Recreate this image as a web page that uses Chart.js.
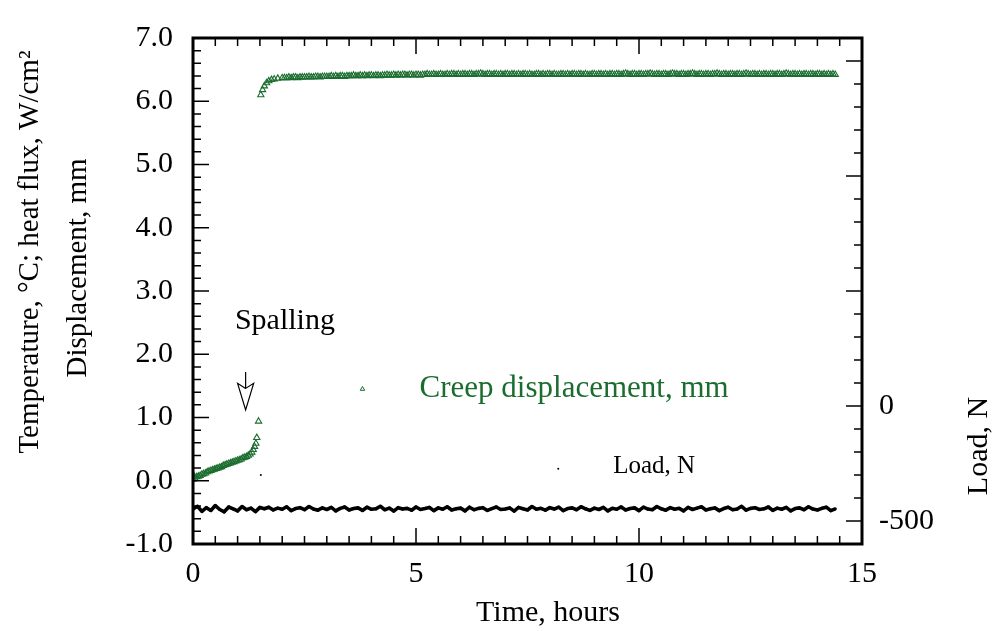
<!DOCTYPE html>
<html>
<head>
    <meta charset="utf-8">
    <title>creep test</title>
    <script src="https://cdn.jsdelivr.net/npm/chart.js@4.4.1/dist/chart.umd.min.js"></script>
    <style>
        body { margin: 0; background: #fff; }
        #myChart { display: block; }
    </style>
</head>
<body>
<canvas id="myChart" width="994" height="631"></canvas>

<script>
    // ---- data ----
    // creep displacement, mm (left axis): before spalling
    let creepTimeA = [
        0.00, 0.00, 0.04, 0.08, 0.12, 0.16, 0.20, 0.24, 0.28, 0.32,
        0.36, 0.40, 0.44, 0.48, 0.52, 0.56, 0.60, 0.64, 0.68, 0.72,
        0.76, 0.80, 0.84, 0.88, 0.92, 0.96, 1.00, 1.04, 1.08, 1.12,
        1.16, 1.20, 1.24, 1.28, 1.32, 1.35, 1.38, 1.41, 1.43, 1.47,
        1.52, 1.56, 1.60, 1.65, 1.70, 1.76, 1.82, 1.90, 2.00
    ];
    let creepDispA = [
        0.10, 0.02, 0.04, 0.06, 0.07, 0.08, 0.10, 0.11, 0.12, 0.14,
        0.15, 0.16, 0.17, 0.18, 0.19, 0.20, 0.21, 0.22, 0.24, 0.25,
        0.26, 0.27, 0.28, 0.29, 0.30, 0.31, 0.32, 0.33, 0.34, 0.36,
        0.37, 0.38, 0.40, 0.42, 0.45, 0.49, 0.54, 0.59, 0.68, 0.94,
        6.10, 6.18, 6.24, 6.29, 6.32, 6.34, 6.35, 6.36, 6.37
    ];
    // creep displacement after spalling (dense plateau)
    let creepTimeB = [
        2.05, 2.10, 2.15, 2.20, 2.25, 2.30, 2.35, 2.40, 2.45, 2.50,
        2.55, 2.60, 2.65, 2.70, 2.75, 2.80, 2.85, 2.90, 2.95, 3.00,
        3.05, 3.10, 3.15, 3.20, 3.25, 3.30, 3.35, 3.40, 3.45, 3.50,
        3.55, 3.60, 3.65, 3.70, 3.75, 3.80, 3.85, 3.90, 3.95, 4.00,
        4.05, 4.10, 4.15, 4.20, 4.25, 4.30, 4.35, 4.40, 4.45, 4.50,
        4.55, 4.60, 4.65, 4.70, 4.75, 4.80, 4.85, 4.90, 4.95, 5.00,
        5.05, 5.10, 5.15, 5.20, 5.25, 5.30, 5.35, 5.40, 5.45, 5.50,
        5.55, 5.60, 5.65, 5.70, 5.75, 5.80, 5.85, 5.90, 5.95, 6.00,
        6.05, 6.10, 6.15, 6.20, 6.25, 6.30, 6.35, 6.40, 6.45, 6.50,
        6.55, 6.60, 6.65, 6.70, 6.75, 6.80, 6.85, 6.90, 6.95, 7.00,
        7.05, 7.10, 7.15, 7.20, 7.25, 7.30, 7.35, 7.40, 7.45, 7.50,
        7.55, 7.60, 7.65, 7.70, 7.75, 7.80, 7.85, 7.90, 7.95, 8.00,
        8.05, 8.10, 8.15, 8.20, 8.25, 8.30, 8.35, 8.40, 8.45, 8.50,
        8.55, 8.60, 8.65, 8.70, 8.75, 8.80, 8.85, 8.90, 8.95, 9.00,
        9.05, 9.10, 9.15, 9.20, 9.25, 9.30, 9.35, 9.40, 9.45, 9.50,
        9.55, 9.60, 9.65, 9.70, 9.75, 9.80, 9.85, 9.90, 9.95, 10.00,
        10.05, 10.10, 10.15, 10.20, 10.25, 10.30, 10.35, 10.40, 10.45, 10.50,
        10.55, 10.60, 10.65, 10.70, 10.75, 10.80, 10.85, 10.90, 10.95, 11.00,
        11.05, 11.10, 11.15, 11.20, 11.25, 11.30, 11.35, 11.40, 11.45, 11.50,
        11.55, 11.60, 11.65, 11.70, 11.75, 11.80, 11.85, 11.90, 11.95, 12.00,
        12.05, 12.10, 12.15, 12.20, 12.25, 12.30, 12.35, 12.40, 12.45, 12.50,
        12.55, 12.60, 12.65, 12.70, 12.75, 12.80, 12.85, 12.90, 12.95, 13.00,
        13.05, 13.10, 13.15, 13.20, 13.25, 13.30, 13.35, 13.40, 13.45, 13.50,
        13.55, 13.60, 13.65, 13.70, 13.75, 13.80, 13.85, 13.90, 13.95, 14.00,
        14.05, 14.10, 14.15, 14.20, 14.25, 14.30, 14.35, 14.40
    ];
    let creepDispB = [
        6.37, 6.37, 6.38, 6.37, 6.38, 6.38, 6.37, 6.38, 6.38, 6.38,
        6.38, 6.39, 6.38, 6.38, 6.39, 6.39, 6.38, 6.39, 6.39, 6.39,
        6.39, 6.40, 6.39, 6.40, 6.39, 6.40, 6.40, 6.39, 6.40, 6.40,
        6.40, 6.41, 6.40, 6.40, 6.41, 6.40, 6.41, 6.40, 6.41, 6.41,
        6.40, 6.41, 6.41, 6.40, 6.41, 6.41, 6.42, 6.41, 6.41, 6.42,
        6.41, 6.42, 6.41, 6.42, 6.42, 6.41, 6.42, 6.42, 6.41, 6.42,
        6.42, 6.41, 6.42, 6.42, 6.43, 6.42, 6.42, 6.43, 6.42, 6.42,
        6.43, 6.42, 6.42, 6.43, 6.42, 6.43, 6.43, 6.42, 6.43, 6.42,
        6.43, 6.43, 6.42, 6.43, 6.43, 6.42, 6.43, 6.43, 6.44, 6.43,
        6.42, 6.43, 6.43, 6.42, 6.43, 6.43, 6.42, 6.43, 6.42, 6.43,
        6.43, 6.42, 6.43, 6.43, 6.42, 6.43, 6.42, 6.43, 6.43, 6.42,
        6.43, 6.42, 6.42, 6.43, 6.43, 6.42, 6.43, 6.42, 6.43, 6.43,
        6.42, 6.43, 6.42, 6.42, 6.43, 6.43, 6.42, 6.43, 6.42, 6.43,
        6.43, 6.42, 6.43, 6.43, 6.42, 6.43, 6.42, 6.42, 6.43, 6.43,
        6.42, 6.43, 6.43, 6.42, 6.43, 6.42, 6.43, 6.43, 6.42, 6.43,
        6.43, 6.42, 6.43, 6.44, 6.43, 6.42, 6.43, 6.43, 6.42, 6.43,
        6.43, 6.42, 6.43, 6.43, 6.44, 6.43, 6.42, 6.43, 6.43, 6.42,
        6.43, 6.43, 6.42, 6.43, 6.44, 6.43, 6.43, 6.42, 6.43, 6.43,
        6.42, 6.43, 6.43, 6.44, 6.43, 6.42, 6.43, 6.43, 6.42, 6.43,
        6.43, 6.42, 6.43, 6.43, 6.44, 6.43, 6.42, 6.43, 6.43, 6.42,
        6.43, 6.43, 6.42, 6.43, 6.43, 6.42, 6.43, 6.44, 6.43, 6.42,
        6.43, 6.43, 6.42, 6.43, 6.42, 6.43, 6.43, 6.42, 6.43, 6.43,
        6.42, 6.43, 6.43, 6.42, 6.43, 6.44, 6.43, 6.42, 6.43, 6.43,
        6.42, 6.43, 6.42, 6.43, 6.43, 6.42, 6.43, 6.43, 6.42, 6.43,
        6.43, 6.42, 6.43, 6.42, 6.43, 6.42, 6.43, 6.42
    ];

    // load, N (right axis)
    let loadTime = [
        0.0, 0.1, 0.2, 0.3, 0.4, 0.5, 0.6, 0.7, 0.8, 0.9,
        1.0, 1.1, 1.2, 1.3, 1.4, 1.5, 1.6, 1.7, 1.8, 1.9,
        2.0, 2.1, 2.2, 2.3, 2.4, 2.5, 2.6, 2.7, 2.8, 2.9,
        3.0, 3.1, 3.2, 3.3, 3.4, 3.5, 3.6, 3.7, 3.8, 3.9,
        4.0, 4.1, 4.2, 4.3, 4.4, 4.5, 4.6, 4.7, 4.8, 4.9,
        5.0, 5.1, 5.2, 5.3, 5.4, 5.5, 5.6, 5.7, 5.8, 5.9,
        6.0, 6.1, 6.2, 6.3, 6.4, 6.5, 6.6, 6.7, 6.8, 6.9,
        7.0, 7.1, 7.2, 7.3, 7.4, 7.5, 7.6, 7.7, 7.8, 7.9,
        8.0, 8.1, 8.2, 8.3, 8.4, 8.5, 8.6, 8.7, 8.8, 8.9,
        9.0, 9.1, 9.2, 9.3, 9.4, 9.5, 9.6, 9.7, 9.8, 9.9,
        10.0, 10.1, 10.2, 10.3, 10.4, 10.5, 10.6, 10.7, 10.8, 10.9,
        11.0, 11.1, 11.2, 11.3, 11.4, 11.5, 11.6, 11.7, 11.8, 11.9,
        12.0, 12.1, 12.2, 12.3, 12.4, 12.5, 12.6, 12.7, 12.8, 12.9,
        13.0, 13.1, 13.2, 13.3, 13.4, 13.5, 13.6, 13.7, 13.8, 13.9,
        14.0, 14.1, 14.2, 14.3, 14.4
    ];
    let loadN = [
        -448, -436, -458, -442, -454, -433, -450, -460, -439, -447,
        -456, -437, -451, -444, -459, -441,
        -447, -440, -452, -444, -449, -438, -455, -446, -442, -451,
        -437, -448, -453, -443, -450, -441, -456, -445, -439, -452,
        -446, -443, -454, -440, -449, -447, -436, -451, -444, -457,
        -442, -448, -445, -453, -439, -450, -446, -441, -455, -443,
        -449, -438, -452, -447, -444, -456, -440, -451, -445, -442,
        -454, -446, -439, -450, -448, -443, -457, -441, -447, -452,
        -437, -449, -445, -453, -442, -448, -440, -455, -446, -443,
        -451, -438, -447, -454, -444, -450, -441, -456, -445, -449,
        -439, -452, -446, -443, -455, -440, -448, -451, -437, -447,
        -453, -442, -449, -445, -456, -441, -450, -444, -438, -452,
        -447, -443, -455, -446, -440, -451, -448, -436, -453, -445,
        -442, -450, -447, -439, -454, -444, -449, -441, -456, -446,
        -443, -451, -438, -448, -452, -445, -440, -455, -447
    ];
    // single stray load reading just after spalling
    let loadSpikeTime = [1.52];
    let loadSpike = [-300];

    // tick labels
    let timeTicks = [0, 5, 10, 15];
    let dispTicks = [-1, 0, 1, 2, 3, 4, 5, 6, 7];
    let loadTicks = [-500, 0];

    let green = '#1b6d2f';
    let serif = '"Liberation Serif", "Times New Roman", serif';

    function pairs(xs, ys) {
        let out = [];
        for (let i = 0; i < xs.length; i++) {
            out.push({x: xs[i], y: ys[i]});
        }
        return out;
    }

    // inward ticks, frame, titles, legend and the spalling arrow
    let decor = {
        id: 'decor',
        afterDraw: function (chart) {
            let ctx = chart.ctx;
            let a = chart.chartArea;
            let sx = chart.scales.x, sy = chart.scales.y, sy2 = chart.scales.y2;
            ctx.save();
            ctx.strokeStyle = '#000';
            ctx.lineWidth = 1.5;
            ctx.beginPath();
            // time ticks every 0.5 h, long every 5 h (bottom and top)
            for (let i = 0; i <= 30; i++) {
                let px = sx.getPixelForValue(i * 0.5);
                let len = (i % 10 === 0) ? 16 : 8;
                ctx.moveTo(px, a.bottom); ctx.lineTo(px, a.bottom - len);
                ctx.moveTo(px, a.top); ctx.lineTo(px, a.top + len);
            }
            // displacement ticks every 0.2, long every 1.0
            for (let i = 0; i <= 40; i++) {
                let py = sy.getPixelForValue(-1 + i * 0.2);
                let len = (i % 5 === 0) ? 16 : 8;
                ctx.moveTo(a.left, py); ctx.lineTo(a.left + len, py);
            }
            // load ticks every 100 N, long every 500 N
            for (let i = 0; i <= 22; i++) {
                let v = -600 + i * 100;
                let py = sy2.getPixelForValue(v);
                let len = (v % 500 === 0) ? 16 : 8;
                ctx.moveTo(a.right, py); ctx.lineTo(a.right - len, py);
            }
            ctx.stroke();

            // frame
            ctx.lineWidth = 3;
            ctx.strokeRect(a.left, a.top, a.right - a.left, a.bottom - a.top);

            // axis titles
            ctx.fillStyle = '#000';
            ctx.textAlign = 'center';
            ctx.textBaseline = 'middle';
            ctx.font = '29px ' + serif;
            ctx.save();
            ctx.translate(30, 252);
            ctx.rotate(-Math.PI / 2);
            ctx.fillText('Temperature, \u00B0C; heat flux, W/cm\u00B2', 0, 0);
            ctx.restore();
            ctx.save();
            ctx.translate(78, 268);
            ctx.rotate(-Math.PI / 2);
            ctx.fillText('Displacement, mm', 0, 0);
            ctx.restore();
            ctx.font = '30px ' + serif;
            ctx.fillText('Time, hours', 548, 613);
            ctx.save();
            ctx.translate(979, 446);
            ctx.rotate(-Math.PI / 2);
            ctx.fillText('Load, N', 0, 0);
            ctx.restore();

            // in-plot legend
            let lx = sx.getPixelForValue(3.8), ly = sy.getPixelForValue(1.45);
            ctx.strokeStyle = green;
            ctx.fillStyle = 'rgba(0,0,0,0)';
            ctx.lineWidth = 1;
            Chart.helpers.drawPoint(ctx, {pointStyle: 'triangle', radius: 2.6, rotation: 0, borderWidth: 1}, lx, ly);
            ctx.fillStyle = green;
            ctx.textAlign = 'left';
            ctx.font = '31px ' + serif;
            ctx.fillText('Creep displacement, mm', sx.getPixelForValue(5.08), ly);

            ctx.fillStyle = '#000';
            ctx.beginPath();
            ctx.arc(sx.getPixelForValue(8.19), sy.getPixelForValue(0.19), 1, 0, Math.PI * 2);
            ctx.fill();
            ctx.font = '25px ' + serif;
            ctx.fillText('Load, N', sx.getPixelForValue(9.42), sy.getPixelForValue(0.22));

            // spalling note and open arrow
            ctx.font = '30px ' + serif;
            ctx.textBaseline = 'alphabetic';
            ctx.fillText('Spalling', sx.getPixelForValue(0.94), sy.getPixelForValue(2.40));
            let ax = sx.getPixelForValue(1.18);
            let axl = sx.getPixelForValue(1.0), axr = sx.getPixelForValue(1.36);
            ctx.strokeStyle = '#000';
            ctx.lineWidth = 1.2;
            ctx.beginPath();
            ctx.moveTo(ax, sy.getPixelForValue(1.72));
            ctx.lineTo(ax, sy.getPixelForValue(1.46));
            ctx.moveTo(ax, sy.getPixelForValue(1.46));
            ctx.lineTo(axl, sy.getPixelForValue(1.54));
            ctx.lineTo(ax, sy.getPixelForValue(1.12));
            ctx.lineTo(axr, sy.getPixelForValue(1.54));
            ctx.closePath();
            ctx.stroke();
            ctx.restore();
        }
    };

    let tickFont = {family: serif, size: 30};
    let creepStyle = {
        yAxisID: 'y',
        showLine: false,
        pointStyle: 'triangle',
        pointRadius: 3.6,
        borderWidth: 1.1,
        borderColor: green,
        backgroundColor: 'rgba(0,0,0,0)'
    };

    let ctx = document.getElementById('myChart');
    let myChart = new Chart(ctx, {
        type: 'scatter',
        data: {
            datasets: [
                Object.assign({label: 'Creep displacement, mm', data: pairs(creepTimeA, creepDispA)}, creepStyle),
                Object.assign({label: 'Creep displacement (plateau)', data: pairs(creepTimeB, creepDispB)}, creepStyle),
                {
                    label: 'Load, N',
                    data: pairs(loadTime, loadN),
                    yAxisID: 'y2',
                    showLine: true,
                    borderColor: '#000',
                    borderWidth: 3.6,
                    borderJoinStyle: 'round',
                    pointRadius: 1.6,
                    pointBorderWidth: 0,
                    pointBackgroundColor: '#000'
                }, {
                    label: 'Load spike',
                    data: pairs(loadSpikeTime, loadSpike),
                    yAxisID: 'y2',
                    showLine: false,
                    pointRadius: 1,
                    pointBorderWidth: 0,
                    pointBackgroundColor: '#000'
                }
            ]
        },
        options: {
            responsive: false,
            animation: false,
            events: [],
            layout: {padding: {top: 33, left: 0, right: 0, bottom: 0}},
            plugins: {
                legend: {display: false},
                tooltip: {enabled: false}
            },
            scales: {
                x: {
                    type: 'linear',
                    position: 'bottom',
                    min: 0,
                    max: 15,
                    afterBuildTicks: function (s) { s.ticks = timeTicks.map(v => ({value: v})); },
                    afterFit: function (s) { s.height = 87; },
                    grid: {display: false, drawTicks: false, tickLength: 0},
                    border: {display: false},
                    ticks: {font: tickFont, color: '#000', padding: 12, maxRotation: 0,
                        callback: v => String(v)}
                },
                y: {
                    type: 'linear',
                    position: 'left',
                    min: -1,
                    max: 7,
                    afterBuildTicks: function (s) { s.ticks = dispTicks.map(v => ({value: v})); },
                    afterFit: function (s) { s.width = 193; },
                    grid: {display: false, drawTicks: false, tickLength: 0},
                    border: {display: false},
                    ticks: {font: tickFont, color: '#000', padding: 20,
                        callback: v => Number(v).toFixed(1)}
                },
                y2: {
                    type: 'linear',
                    position: 'right',
                    min: -600,
                    max: 1600,
                    afterBuildTicks: function (s) { s.ticks = loadTicks.map(v => ({value: v})); },
                    afterFit: function (s) { s.width = 132; },
                    grid: {display: false, drawTicks: false, tickLength: 0},
                    border: {display: false},
                    ticks: {font: tickFont, color: '#000', padding: 17,
                        callback: v => String(v)}
                }
            }
        },
        plugins: [decor]
    });
</script>
</body>
</html>
